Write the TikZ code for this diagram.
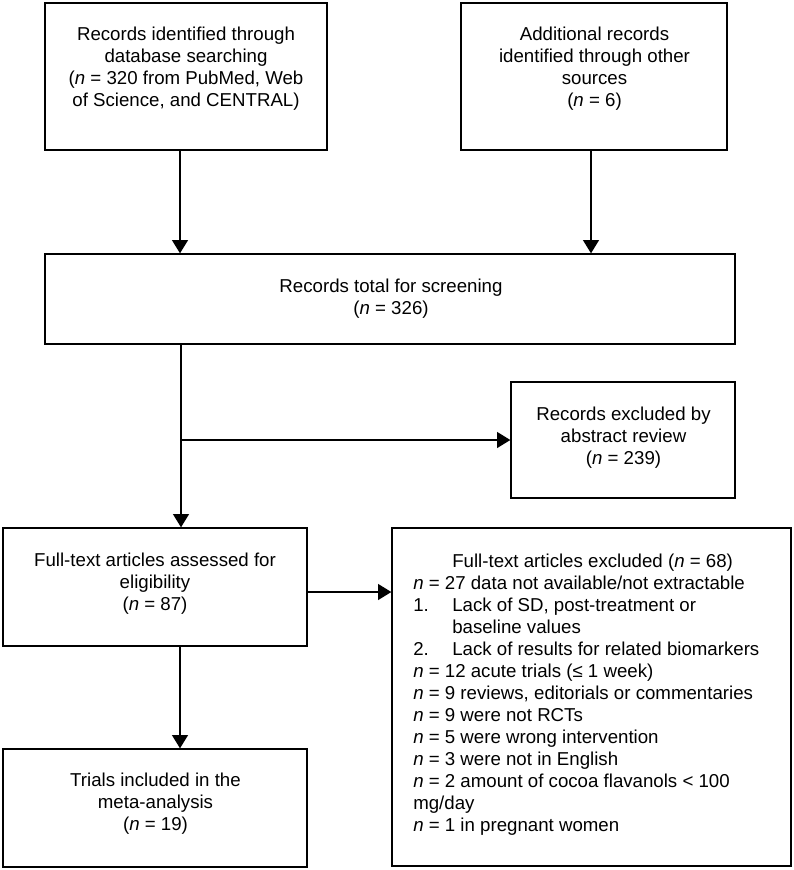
\documentclass[tikz,border=0pt]{standalone}
\usepackage{fontspec}
\setmainfont{Liberation Sans}
\usetikzlibrary{arrows.meta}
\begin{document}
\begin{tikzpicture}[x=0.75pt,y=-0.75pt,
  boxst/.style={draw, line width=1pt, inner sep=0pt},
  txt/.style={align=center, inner sep=0pt, font=\fontsize{14}{16.5}\selectfont},
  gtxt/.style={align=left, inner sep=0pt, font=\fontsize{14}{16.5}\selectfont},
  arr/.style={line width=1pt, -{Triangle[length=10pt,width=12pt]}},
  ln/.style={line width=1pt}]
\useasboundingbox (0,0) rectangle (793,870);
\fill[white] (0,0) rectangle (793,870);
% boxes
\node[boxst, minimum width=211.5pt, minimum height=110.25pt] (A) at (186,76.5) {};
\node[boxst, minimum width=199.5pt, minimum height=110.25pt] (B) at (594,76.5) {};
\node[boxst, minimum width=517.5pt, minimum height=67.5pt] (C) at (390,299) {};
\node[boxst, minimum width=168pt, minimum height=87pt] (D) at (623,440) {};
\node[boxst, minimum width=228pt, minimum height=88.5pt] (E) at (155,587) {};
\node[boxst, minimum width=228pt, minimum height=88.5pt] (F) at (155,808) {};
\node[boxst, minimum width=299.25pt, minimum height=253.5pt] (G) at (591.5,697) {};
% texts
\node[txt] (At) at (186,69) {Records identified through\\database searching\\(\textit{n} = 320 from PubMed, Web\\of Science, and CENTRAL)};
\node[txt] (Bt) at (594.5,68.5) {Additional records\\identified through other\\sources\\(\textit{n} = 6)};
\node[txt] (Ct) at (391,298.5) {Records total for screening\\(\textit{n} = 326)};
\node[txt] (Dt) at (623.5,437.5) {Records excluded by\\abstract review\\(\textit{n} = 239)};
\node[txt] (Et) at (155,584) {Full-text articles assessed for\\eligibility\\(\textit{n} = 87)};
\node[txt] (Ft) at (155.5,804) {Trials included in the\\meta-analysis\\(\textit{n} = 19)};
\node[gtxt, anchor=north west] (Gt) at (413,554) {\hspace*{29.25pt}Full-text articles excluded (\textit{n} = 68)\\
\textit{n} = 27 data not available/not extractable\\
\makebox[29.25pt][l]{1.}Lack of SD, post-treatment or\\
\hspace*{29.25pt}baseline values\\
\makebox[29.25pt][l]{2.}Lack of results for related biomarkers\\
\textit{n} = 12 acute trials (≤ 1 week)\\
\textit{n} = 9 reviews, editorials or commentaries\\
\textit{n} = 9 were not RCTs\\
\textit{n} = 5 were wrong intervention\\
\textit{n} = 3 were not in English\\
\textit{n} = 2 amount of cocoa flavanols < 100\\
mg/day\\
\textit{n} = 1 in pregnant women};
% connectors
\draw[arr] ([xshift=-4.5pt]A.south) -- ([xshift=-4.5pt]A.south |- C.north);
\draw[arr] ([xshift=-2.25pt]B.south) -- ([xshift=-2.25pt]B.south |- C.north);
\coordinate (t1) at ([xshift=-156.75pt]C.south);
\draw[arr] (t1) -- (t1 |- E.north);
\draw[arr] (t1 |- D.west) -- (D.west);
\draw[arr] ([xshift=18.75pt]E.south) -- ([xshift=18.75pt]E.south |- F.north);
\draw[arr] ([yshift=-3.75pt]E.east) -- ([yshift=-3.75pt]E.east -| G.west);
\end{tikzpicture}
\end{document}
